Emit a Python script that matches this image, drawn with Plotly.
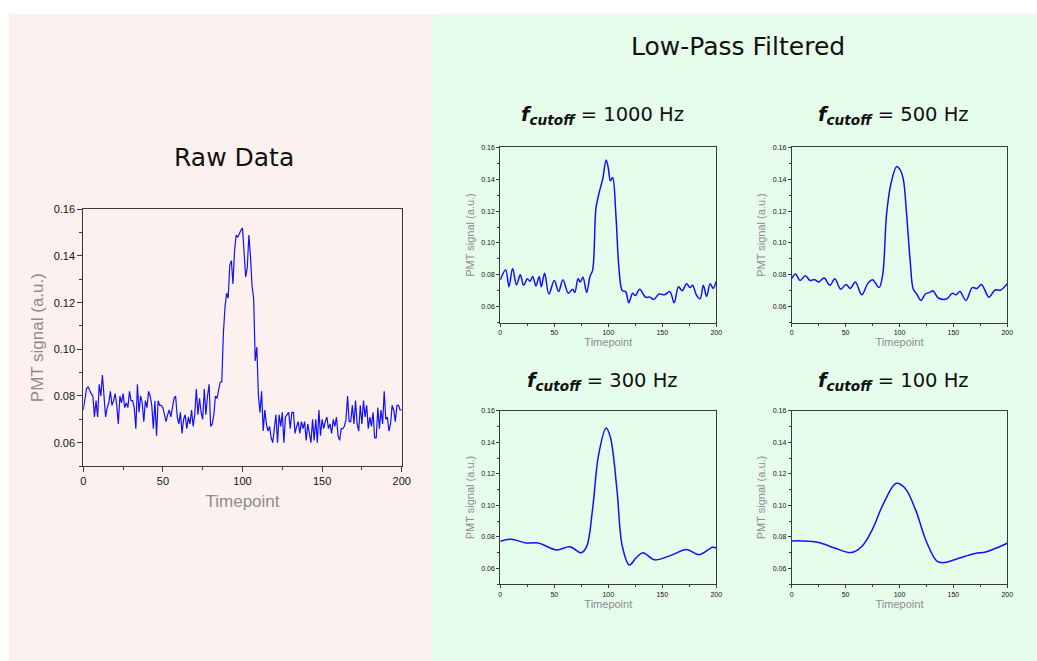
import plotly.graph_objects as go

# ---------------- data ----------------
raw_t = list(range(0, 201))
raw_v = [
    0.074, 0.079, 0.083, 0.084, 0.082, 0.081, 0.080, 0.071, 0.078, 0.071,
    0.085, 0.080, 0.089, 0.078, 0.071, 0.075, 0.077, 0.082, 0.076, 0.078,
    0.081, 0.076, 0.068, 0.080, 0.077, 0.081, 0.075, 0.077, 0.075, 0.082,
    0.078, 0.078, 0.075, 0.066, 0.085, 0.073, 0.080, 0.077, 0.069, 0.078,
    0.075, 0.082, 0.080, 0.076, 0.066, 0.078, 0.063, 0.078, 0.076, 0.076,
    0.075, 0.072, 0.069, 0.072, 0.074, 0.071, 0.075, 0.079, 0.080, 0.071,
    0.068, 0.073, 0.064, 0.070, 0.072, 0.066, 0.071, 0.068, 0.074, 0.067,
    0.072, 0.083, 0.072, 0.079, 0.073, 0.070, 0.083, 0.072, 0.080, 0.085,
    0.067, 0.068, 0.072, 0.080, 0.079, 0.083, 0.086, 0.086, 0.107, 0.118,
    0.124, 0.122, 0.136, 0.138, 0.128, 0.142, 0.149, 0.148, 0.150, 0.151,
    0.152, 0.142, 0.131, 0.135, 0.149, 0.140, 0.127, 0.122, 0.095, 0.101,
    0.080, 0.073, 0.082, 0.065, 0.074, 0.068, 0.065, 0.067, 0.062, 0.060,
    0.067, 0.072, 0.060, 0.072, 0.067, 0.073, 0.060, 0.071, 0.072, 0.073,
    0.066, 0.073, 0.073, 0.064, 0.067, 0.069, 0.064, 0.069, 0.066, 0.069,
    0.061, 0.068, 0.064, 0.060, 0.070, 0.061, 0.070, 0.060, 0.074, 0.063,
    0.070, 0.066, 0.069, 0.071, 0.066, 0.068, 0.064, 0.070, 0.067, 0.071,
    0.063, 0.061, 0.066, 0.066, 0.067, 0.070, 0.080, 0.069, 0.069, 0.076,
    0.068, 0.078, 0.068, 0.065, 0.076, 0.068, 0.078, 0.071, 0.076, 0.066,
    0.071, 0.067, 0.073, 0.062, 0.062, 0.075, 0.066, 0.074, 0.068, 0.082,
    0.070, 0.071, 0.065, 0.068, 0.076, 0.074, 0.069, 0.076, 0.076, 0.074,
    0.074,
]

f1000_t = [0, 5, 8, 11.4, 15, 18.5, 21.6, 25, 27.5, 30, 33, 36, 38, 41, 45, 50, 54, 58,
           63, 67, 69, 72, 74, 76.5, 80, 83, 85.5, 88.6, 91.7, 94.8, 98, 100, 102, 104,
           107, 110, 113, 116, 119, 122.5, 125, 129, 134.6, 138.6, 142, 147, 152, 157,
           161, 165, 168.5, 172.5, 175.6, 178, 181.5, 185, 188, 191, 194.4, 197, 200]
f1000_v = [0.0768, 0.083, 0.0726, 0.084, 0.0737, 0.080, 0.0735, 0.0775, 0.076, 0.079,
           0.073, 0.079, 0.0725, 0.081, 0.068, 0.0765, 0.0695, 0.077, 0.0685, 0.071,
           0.069, 0.0775, 0.0755, 0.0785, 0.069, 0.079, 0.083, 0.122, 0.132, 0.140,
           0.152, 0.147, 0.139, 0.141, 0.118, 0.083, 0.070, 0.0695, 0.0625, 0.0685,
           0.067, 0.071, 0.066, 0.066, 0.0645, 0.068, 0.0675, 0.0695, 0.0625, 0.0725,
           0.070, 0.0745, 0.072, 0.0735, 0.0675, 0.065, 0.0735, 0.0665, 0.0745, 0.0715,
           0.076]

f500_t = [0, 3.7, 7.7, 12.7, 17, 21.6, 25, 30, 35.5, 40, 45.4, 50.4, 54.4, 59, 65, 70.5,
          75, 81, 84.4, 88, 92, 97.4, 100.5, 103.5, 106.6, 110, 112.8, 116, 120, 124,
          128, 131, 136, 144, 149, 152.4, 156, 161.7, 167.5, 172, 176, 183, 188.6,
          193.8, 200]
f500_v = [0.0777, 0.0805, 0.0765, 0.0795, 0.0765, 0.077, 0.0755, 0.078, 0.0735, 0.0775,
          0.071, 0.074, 0.0715, 0.0755, 0.0675, 0.0745, 0.077, 0.072, 0.080, 0.118,
          0.137, 0.148, 0.146, 0.140, 0.118, 0.088, 0.071, 0.068, 0.064, 0.068,
          0.069, 0.070, 0.0655, 0.065, 0.0685, 0.0675, 0.0695, 0.064, 0.072, 0.0715,
          0.074, 0.066, 0.0705, 0.0705, 0.0745]

f300_t = [0, 10, 24, 35, 52, 64.5, 75, 80, 85.5, 91, 98, 102, 108, 113, 119.5, 126, 132,
          143, 158.6, 172.5, 184, 196.6, 200]
f300_v = [0.0773, 0.0786, 0.0762, 0.0762, 0.0718, 0.0738, 0.070, 0.074, 0.098, 0.132,
          0.149, 0.143, 0.110, 0.074, 0.0622, 0.067, 0.070, 0.0655, 0.0685, 0.072,
          0.0688, 0.0735, 0.073]

f100_t = [0, 10, 25, 40, 55, 65, 75, 85, 97, 105, 115, 125, 135, 142, 155, 170, 180, 190, 200]
f100_v = [0.0775, 0.0775, 0.0765, 0.073, 0.0701, 0.074, 0.085, 0.101, 0.114, 0.111,
          0.097, 0.077, 0.0645, 0.0638, 0.0665, 0.0695, 0.0705, 0.073, 0.076]

x_ticks = [0, 50, 100, 150, 200]
y_ticks = [0.06, 0.08, 0.10, 0.12, 0.14, 0.16]

# ---------------- figure ----------------
W, H = 1037, 661
BLUE = "#1010ff"
GRAY = "#8c8c8c"
AXC = "#3a3a3a"

def fx(px):
    return px / W

def fy(py):
    return 1 - py / H

fig = go.Figure()

panels = [
    # (t, v, xdomain px, ydomain px, big, line width, spline)
    (raw_t, raw_v, (83.3, 401.7), (209.3, 466.0), True, 1.2, False),
    (f1000_t, f1000_v, (500.3, 716.3), (147.3, 322.7), False, 1.5, True),
    (f500_t, f500_v, (791.7, 1007.3), (147.3, 322.7), False, 1.5, True),
    (f300_t, f300_v, (500.3, 716.3), (410.7, 584.3), False, 1.5, True),
    (f100_t, f100_v, (791.7, 1007.3), (410.7, 584.3), False, 1.5, True),
]

layout_axes = {}
for i, (t, v, xd, yd, big, lw, spl) in enumerate(panels):
    n = "" if i == 0 else str(i + 1)
    fig.add_trace(go.Scatter(
        x=t, y=v, mode="lines", xaxis="x" + n, yaxis="y" + n,
        line=dict(color=BLUE, width=lw, shape="spline" if spl else "linear",
                  smoothing=1.0 if spl else None),
        showlegend=False, hoverinfo="skip"))
    tick_fs = 11 if big else 7
    title_fs = 17 if big else 11
    common = dict(showline=True, linecolor=AXC, linewidth=1, mirror=True,
                  ticks="outside", tickcolor=AXC, showgrid=False, zeroline=False,
                  automargin=False,
                  tickfont=dict(family="Liberation Sans, Arial", size=tick_fs, color="#111"))
    layout_axes["xaxis" + n] = dict(
        common, domain=[fx(xd[0]), fx(xd[1])], range=[0, 200], anchor="y" + n,
        tickvals=x_ticks, ticklen=5 if big else 3,
        minor=dict(ticks="outside", dtick=25, tick0=0, ticklen=3 if big else 2, tickcolor=AXC),
        title=dict(text="Timepoint", standoff=8 if big else 3,
                   font=dict(family="Liberation Sans, Arial", size=title_fs, color=GRAY)))
    layout_axes["yaxis" + n] = dict(
        common, domain=[fy(yd[1]), fy(yd[0])], range=[0.05, 0.16], anchor="x" + n,
        tickvals=y_ticks, tickformat=".2f", ticklen=5 if big else 3,
        minor=dict(ticks="outside", dtick=0.01, tick0=0.05, ticklen=3 if big else 2, tickcolor=AXC),
        title=dict(text="PMT signal (a.u.)", standoff=5 if big else 4,
                   font=dict(family="Liberation Sans, Arial", size=title_fs, color=GRAY)))

TFONT = "DejaVu Sans, Lato, sans-serif"
annotations = [
    dict(text="Raw Data", x=fx(234), y=fy(157), size=25),
    dict(text="Low-Pass Filtered", x=fx(738), y=fy(46), size=25),
    dict(text="<b><i>f</i></b><sub><b><i>cutoff</i></b></sub> = 1000 Hz", x=fx(602), y=fy(116), size=19.5),
    dict(text="<b><i>f</i></b><sub><b><i>cutoff</i></b></sub> = 500 Hz", x=fx(893), y=fy(116), size=19.5),
    dict(text="<b><i>f</i></b><sub><b><i>cutoff</i></b></sub> = 300 Hz", x=fx(602), y=fy(381), size=19.5),
    dict(text="<b><i>f</i></b><sub><b><i>cutoff</i></b></sub> = 100 Hz", x=fx(893), y=fy(381), size=19.5),
]
ann = [dict(text=a["text"], x=a["x"], y=a["y"], xref="paper", yref="paper",
            xanchor="center", yanchor="middle", showarrow=False,
            font=dict(family=TFONT, size=a["size"], color="#111")) for a in annotations]

shapes = [
    dict(type="rect", xref="paper", yref="paper", x0=fx(9), x1=fx(432), y0=0, y1=fy(14),
         fillcolor="#fdf1ef", line=dict(width=0), layer="below"),
    dict(type="rect", xref="paper", yref="paper", x0=fx(432), x1=1, y0=0, y1=fy(14),
         fillcolor="#e6fdec", line=dict(width=0), layer="below"),
]

fig.update_layout(
    width=W, height=H,
    margin=dict(l=0, r=0, t=0, b=0, pad=0, autoexpand=False),
    paper_bgcolor="white", plot_bgcolor="rgba(0,0,0,0)",
    shapes=shapes, annotations=ann, **layout_axes)

fig.write_html("out.html")
